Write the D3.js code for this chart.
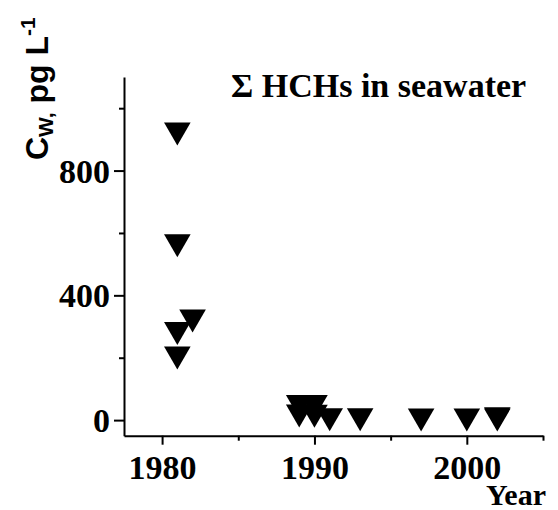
<!DOCTYPE html>
<html>
<head>
<meta charset="utf-8">
<script src="https://cdn.jsdelivr.net/npm/d3@7"></script>
<style>
  html, body { margin: 0; padding: 0; background: #fff; }
  svg { display: block; }
  .serif { font-family: "Liberation Serif", "Times New Roman", serif; font-weight: bold; }
  .sans { font-family: "Liberation Sans", Arial, sans-serif; font-weight: bold; }
</style>
</head>
<body>
<svg id="chart" width="558" height="510"></svg>
<script>
// ---- Data ----
const years  = [1981, 1981, 1981, 1982, 1981, 1989, 1989, 1990, 1990, 1991, 1993, 1997, 2000, 2002, 2002];
const values = [917,  559,  278,  318,  199,  44,   13,   44,   12,   1,    1,    0,    0,    4,    0];
const xMajorTicks = [1980, 1990, 2000];
const xMinorTicks = [1985, 1995, 2005];
const yMajorTicks = [0, 400, 800];
const yMinorTicks = [200, 600, 1000];
const titleText = "\u03A3 HCHs in seawater";
const xTitle = "Year";

const svg = d3.select("#chart");
const x = d3.scaleLinear().domain([1977.5, 2005]).range([124, 543]);
const y = d3.scaleLinear().domain([-50, 1100]).range([435.7, 77]);

const x0 = x.range()[0], y0 = y.range()[0];

// X axis (major)
const gx = svg.append("g").attr("transform", `translate(0,${y0})`)
  .call(d3.axisBottom(x).tickValues(xMajorTicks).tickSize(9).tickSizeOuter(0).tickPadding(10).tickFormat(d3.format("d")));
// X minor
const gxm = svg.append("g").attr("transform", `translate(0,${y0})`)
  .call(d3.axisBottom(x).tickValues(xMinorTicks).tickSize(5).tickSizeOuter(0).tickFormat(""));
gxm.select(".domain").remove();

// Y axis (major)
const gy = svg.append("g").attr("transform", `translate(${x0},0)`)
  .call(d3.axisLeft(y).tickValues(yMajorTicks).tickSize(10).tickSizeOuter(0).tickPadding(4));
const gym = svg.append("g").attr("transform", `translate(${x0},0)`)
  .call(d3.axisLeft(y).tickValues(yMinorTicks).tickSize(5).tickSizeOuter(0).tickFormat(""));
gym.select(".domain").remove();

[gx, gxm, gy, gym].forEach(g => {
  g.selectAll("path.domain").attr("stroke", "#000").attr("stroke-width", 2);
  g.selectAll(".tick line").attr("stroke", "#000").attr("stroke-width", 2);
});
[gx, gy].forEach(g => {
  g.selectAll(".tick text")
    .attr("class", "serif")
    .attr("font-size", 34)
    .attr("fill", "#000");
});
gx.selectAll(".tick text").attr("dy", null).attr("y", 0)
  .attr("transform", "translate(0,43)");
gy.selectAll(".tick text").attr("dy", "0.34em");

// Markers: down triangles, bbox-centred
const tri = "M-13.3,-11.5L13.3,-11.5L0,11.5Z";
svg.append("g").selectAll("path.pt")
  .data(d3.range(years.length))
  .join("path")
  .attr("class", "pt")
  .attr("d", tri)
  .attr("transform", i => `translate(${x(years[i])},${y(values[i])})`)
  .attr("fill", "#000");

// Title
svg.append("text")
  .attr("class", "serif")
  .attr("x", 231).attr("y", 96.5)
  .attr("font-size", 34)
  .text(titleText);

// X title
svg.append("text")
  .attr("class", "serif")
  .attr("x", 546).attr("y", 505)
  .attr("text-anchor", "end")
  .attr("font-size", 30)
  .text(xTitle);

// Y title (rotated)
const yt = svg.append("text")
  .attr("class", "sans")
  .attr("transform", "translate(48,160) rotate(-90)")
  .attr("font-size", 32);
yt.append("tspan").text("C");
yt.append("tspan").attr("font-size", 21).attr("dy", 5).text("W,");
yt.append("tspan").attr("dy", -5).text(" pg L");
yt.append("tspan").attr("font-size", 21).attr("dy", -13).text("-1");
</script>
</body>
</html>
